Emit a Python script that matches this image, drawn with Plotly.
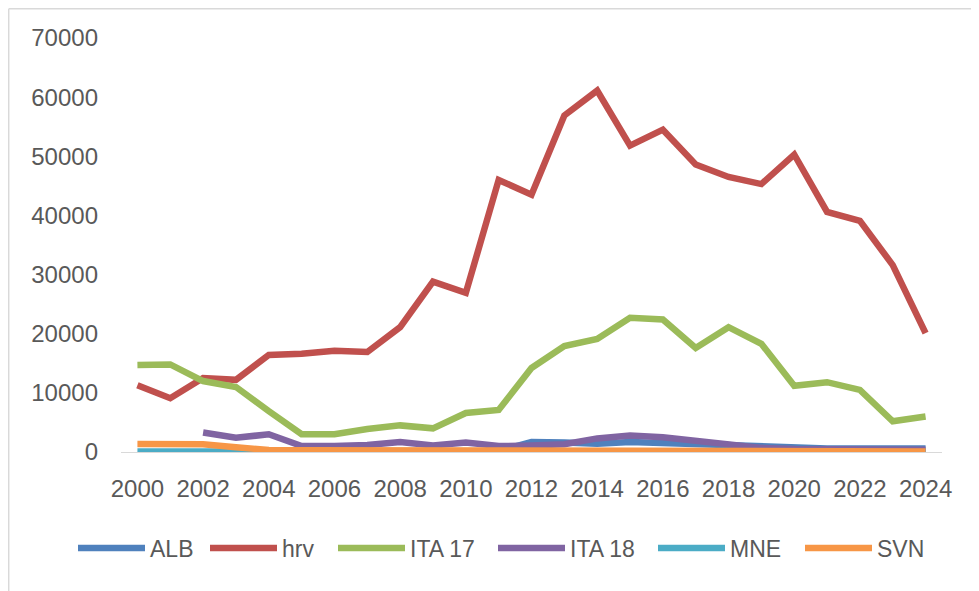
import plotly.graph_objects as go

years = list(range(2000, 2025))

alb = [None]*11 + [200, 1700, 1600, 1400, 1700, 1500, 1200, 1000, 800, 600, 600, 600, 600, 600]
hrv = [11300, 9100, 12500, 12200, 16400, 16600, 17100, 16900, 21100, 28800, 26900, 46000, 43500,
       56900, 61100, 51800, 54500, 48600, 46500, 45300, 50300, 40600, 39100, 31600, 20100]
ita17 = [14700, 14800, 12000, 11000, 6900, 3000, 3000, 3900, 4500, 4000, 6600, 7100, 14200,
         17900, 19100, 22700, 22400, 17600, 21100, 18300, 11200, 11800, 10500, 5200, 6000]
ita18 = [None, None, 3300, 2400, 3000, 1000, 1000, 1200, 1700, 1100, 1600, 1000, 1100,
         1300, 2300, 2800, 2500, 1900, 1300, 700, 500, 500, 500, 500, 400]
mne = [100, 100, 100, 50, 0, 0, 0, 0, 0, 0, 0, 0, 0, 0, 0, 0, 0, 0, 0, 0, 0, 0, 0, 0, 0]
svn = [1350, 1300, 1300, 800, 350, 300, 300, 300, 300, 300, 300, 300, 250, 250, 200, 200,
       150, 150, 100, 100, 100, 100, 100, 100, 100]

names = ["ALB", "hrv", "ITA 17", "ITA 18", "MNE", "SVN"]
values = [alb, hrv, ita17, ita18, mne, svn]
colors = ["#4F81BD", "#C0504D", "#9BBB59", "#8064A2", "#4BACC6", "#F79646"]

# page body adds an 8px offset; figure coords = screen coords - 8
OFF = 8
W, H = 979 - OFF, 591 - OFF
L, T = 121 - OFF, 38 - OFF
R = W - (942 - OFF)
B = H - (452 - OFF)
pw, ph = W - L - R, H - T - B

def px(x):
    return (x - OFF - L) / pw

def py(y):
    return (H - B - (y - OFF)) / ph

# screen x where each legend entry's line starts
legend_x = [78, 210, 338, 498, 658, 805]

fig = go.Figure()
legends = {}
for i, (name, vals, col) in enumerate(zip(names, values, colors)):
    key = "legend" if i == 0 else f"legend{i + 1}"
    fig.add_trace(go.Scatter(x=years, y=vals, name=name, mode="lines",
                             legend=key,
                             line=dict(color=col, width=6.5), connectgaps=False))
    legends[key] = dict(orientation="h", xref="container", yref="paper",
                        x=(legend_x[i] - OFF - 5) / W, xanchor="left",
                        y=py(548), yanchor="middle",
                        font=dict(family="Liberation Sans, Arial", size=23, color="#595959"),
                        itemwidth=67, bgcolor="rgba(0,0,0,0)")

fig.update_layout(
    width=W, height=H,
    margin=dict(l=L, r=R, t=T, b=B, autoexpand=False),
    paper_bgcolor="white", plot_bgcolor="white",
    font=dict(family="Liberation Sans, Arial, sans-serif", color="#595959", size=24),
    showlegend=True,
    xaxis=dict(range=[1999.5, 2024.5], tickmode="array", tickvals=list(range(2000, 2025, 2)),
               ticktext=[str(v) for v in range(2000, 2025, 2)], tickangle=0,
               showgrid=False, zeroline=False, showline=False, ticks="",
               ticklabelstandoff=20, fixedrange=True),
    yaxis=dict(range=[0, 70000], dtick=10000, tickformat="d", showgrid=False,
               zeroline=True, zerolinecolor="#D9D9D9", zerolinewidth=1.3,
               showline=False, ticks="", ticklabelstandoff=22, fixedrange=True),
    shapes=[
        dict(type="line", xref="paper", yref="paper", x0=px(8.7), x1=px(8.7), y0=py(8.7), y1=py(591),
             line=dict(color="#D9D9D9", width=1.5)),
        dict(type="line", xref="paper", yref="paper", x0=px(8.7), x1=px(979), y0=py(8.7), y1=py(8.7),
             line=dict(color="#D9D9D9", width=1.5)),
    ],
    **legends,
)

fig.write_html("out.html")
